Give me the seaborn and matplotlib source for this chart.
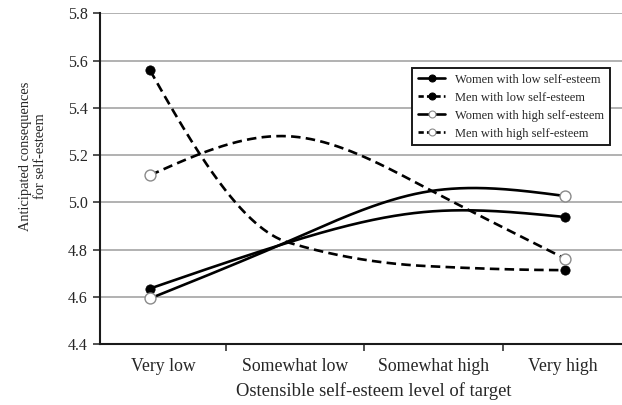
import numpy as np
import pandas as pd
import matplotlib
matplotlib.use("Agg")
import matplotlib.pyplot as plt
from matplotlib.lines import Line2D
import seaborn as sns

# ---- data ----
categories = ["Very low", "Somewhat low", "Somewhat high", "Very high"]
series_names = ["Women with low self-esteem", "Men with low self-esteem",
                "Women with high self-esteem", "Men with high self-esteem"]
women_low = [4.635, 4.83, 4.96, 4.938]
men_low = [5.559, 4.83, 4.73, 4.713]
women_high = [4.593, 4.835, 5.045, 5.027]
men_high = [5.115, 5.28, 5.06, 4.762]
y_ticks = [4.4, 4.6, 4.8, 5.0, 5.2, 5.4, 5.6, 5.8]

values = {series_names[0]: women_low, series_names[1]: men_low,
          series_names[2]: women_high, series_names[3]: men_high}
filled = {series_names[0]: True, series_names[1]: True,
          series_names[2]: False, series_names[3]: False}
dashed = {series_names[0]: False, series_names[1]: True,
          series_names[2]: False, series_names[3]: True}


def natural_spline(yv, xs):
    """Natural cubic spline through equally spaced points (h = 1)."""
    y = np.asarray(yv, float)
    n = len(y)
    A = np.zeros((n, n))
    b = np.zeros(n)
    A[0, 0] = A[-1, -1] = 1.0
    for i in range(1, n - 1):
        A[i, i - 1], A[i, i], A[i, i + 1] = 1.0, 4.0, 1.0
        b[i] = 6.0 * (y[i - 1] - 2 * y[i] + y[i + 1])
    M = np.linalg.solve(A, b)
    out = np.empty_like(xs)
    for k, x in enumerate(xs):
        i = min(int(np.floor(x)), n - 2)
        t = x - i
        out[k] = (M[i] * (1 - t) ** 3 / 6 + M[i + 1] * t ** 3 / 6
                  + (y[i] - M[i] / 6) * (1 - t) + (y[i + 1] - M[i + 1] / 6) * t)
    return out


def pchip(yv, xs):
    """Shape-preserving (monotone) cubic Hermite through equally spaced points."""
    y = np.asarray(yv, float)
    n = len(y)
    d = np.diff(y)
    m = np.zeros(n)
    for i in range(1, n - 1):
        if d[i - 1] * d[i] > 0:
            m[i] = 2.0 / (1.0 / d[i - 1] + 1.0 / d[i])
    m[0] = (3 * d[0] - d[1]) / 2
    if np.sign(m[0]) != np.sign(d[0]):
        m[0] = 0
    m[-1] = (3 * d[-1] - d[-2]) / 2
    if np.sign(m[-1]) != np.sign(d[-1]):
        m[-1] = 0
    out = np.empty_like(xs)
    for k, x in enumerate(xs):
        i = min(int(np.floor(x)), n - 2)
        t = x - i
        h00 = 2 * t ** 3 - 3 * t ** 2 + 1
        h10 = t ** 3 - 2 * t ** 2 + t
        h01 = -2 * t ** 3 + 3 * t ** 2
        h11 = t ** 3 - t ** 2
        out[k] = h00 * y[i] + h10 * m[i] + h01 * y[i + 1] + h11 * m[i + 1]
    return out


def smooth(yv, xs):
    d = np.diff(yv)
    if np.all(d < 0) or np.all(d > 0):
        return pchip(yv, xs)
    return natural_spline(yv, xs)


pos = np.arange(len(categories), dtype=float)
xs = np.linspace(pos[0], pos[-1], 400)
rows = []
for name in series_names:
    ys = smooth(values[name], xs)
    rows.append(pd.DataFrame({"x": xs, "y": ys, "series": name}))
curves = pd.concat(rows, ignore_index=True)

ends = pd.DataFrame([{"x": pos[i], "y": values[n][i], "series": n}
                     for n in series_names for i in (0, len(pos) - 1)])

# ---- figure ----
sns.set_theme(style="white")
plt.rcParams["font.family"] = ["Liberation Serif", "DejaVu Serif"]
text_col = "#262626"

fig = plt.figure(figsize=(6.22, 4.05), dpi=100)
ax = fig.add_axes([0.1608, 0.1506, 0.8392, 0.8161])

ax.set_axisbelow(True)
ax.yaxis.grid(True, color="#9c9c9c", linewidth=1.1)
ax.xaxis.grid(False)

lw = 1.9
sns.lineplot(data=curves, x="x", y="y", hue="series", style="series",
             palette={n: "black" for n in series_names},
             dashes={n: ((3.6, 2.0) if dashed[n] else "") for n in series_names},
             sort=False, estimator=None, linewidth=lw, legend=False, ax=ax)

for n in series_names:
    sub = ends[ends.series == n]
    if filled[n]:
        sns.scatterplot(data=sub, x="x", y="y", color="black", s=45,
                        edgecolor="black", linewidth=0.5, zorder=5,
                        legend=False, ax=ax)
    else:
        sns.scatterplot(data=sub, x="x", y="y", color="white", s=62,
                        edgecolor="#8a8a8a", linewidth=1.0, zorder=5,
                        legend=False, ax=ax)

# axes ranges / ticks
x_left, x_right = -0.362, 3.413
ax.set_xlim(x_left, x_right)
ax.set_ylim(y_ticks[0], y_ticks[-1])
ax.set_yticks(y_ticks)
ax.set_yticklabels([f"{v:.1f}" for v in y_ticks], fontsize=11.5, color=text_col)

bounds = [p + 0.55 for p in pos[:-1]]
edges = [x_left] + bounds + [x_right]
label_pos = [(edges[i] + edges[i + 1]) / 2 for i in range(len(categories))]
ax.set_xticks(bounds)
ax.set_xticklabels([])
ax.set_xticks(label_pos, minor=True)
ax.set_xticklabels(categories, minor=True, fontsize=12.8, color=text_col)
ax.tick_params(axis="x", which="major", direction="out", length=5, width=1.2,
               color="#333333", bottom=True)
ax.tick_params(axis="x", which="minor", length=0, pad=10)
ax.tick_params(axis="y", direction="out", length=5, width=1.2,
               color="#333333", left=True, pad=4)

for s in ("top", "right"):
    ax.spines[s].set_visible(False)
for s in ("left", "bottom"):
    ax.spines[s].set_color("#1a1a1a")
    ax.spines[s].set_linewidth(1.5)

ax.set_xlabel("Ostensible self-esteem level of target", fontsize=13.4,
              color=text_col)
ax.xaxis.set_label_coords(0.525, -0.115)
ax.set_ylabel("Anticipated consequences\nfor self-esteem", fontsize=10.4,
              color=text_col, linespacing=1.2)
ax.yaxis.set_label_coords(-0.101, 0.569)

# legend
handles = []
for n in series_names:
    handles.append(Line2D([0], [0], color="black", linewidth=lw,
                          linestyle=(0, (2.0, 1.2)) if dashed[n] else "-",
                          marker="o", markersize=5,
                          markerfacecolor="black" if filled[n] else "white",
                          markeredgecolor="black" if filled[n] else "#8a8a8a",
                          markeredgewidth=0.8))
leg = ax.legend(handles, series_names, loc="upper right",
                bbox_to_anchor=(0.977, 0.835), fontsize=9, frameon=True,
                fancybox=False, handlelength=2.2, handletextpad=0.8,
                labelspacing=0.48, borderpad=0.45, borderaxespad=0)
leg.get_frame().set_edgecolor("#1a1a1a")
leg.get_frame().set_linewidth(1.4)
leg.get_frame().set_facecolor("white")
leg.get_frame().set_alpha(1)
for t in leg.get_texts():
    t.set_color(text_col)

fig.savefig("out.png", dpi=100)
